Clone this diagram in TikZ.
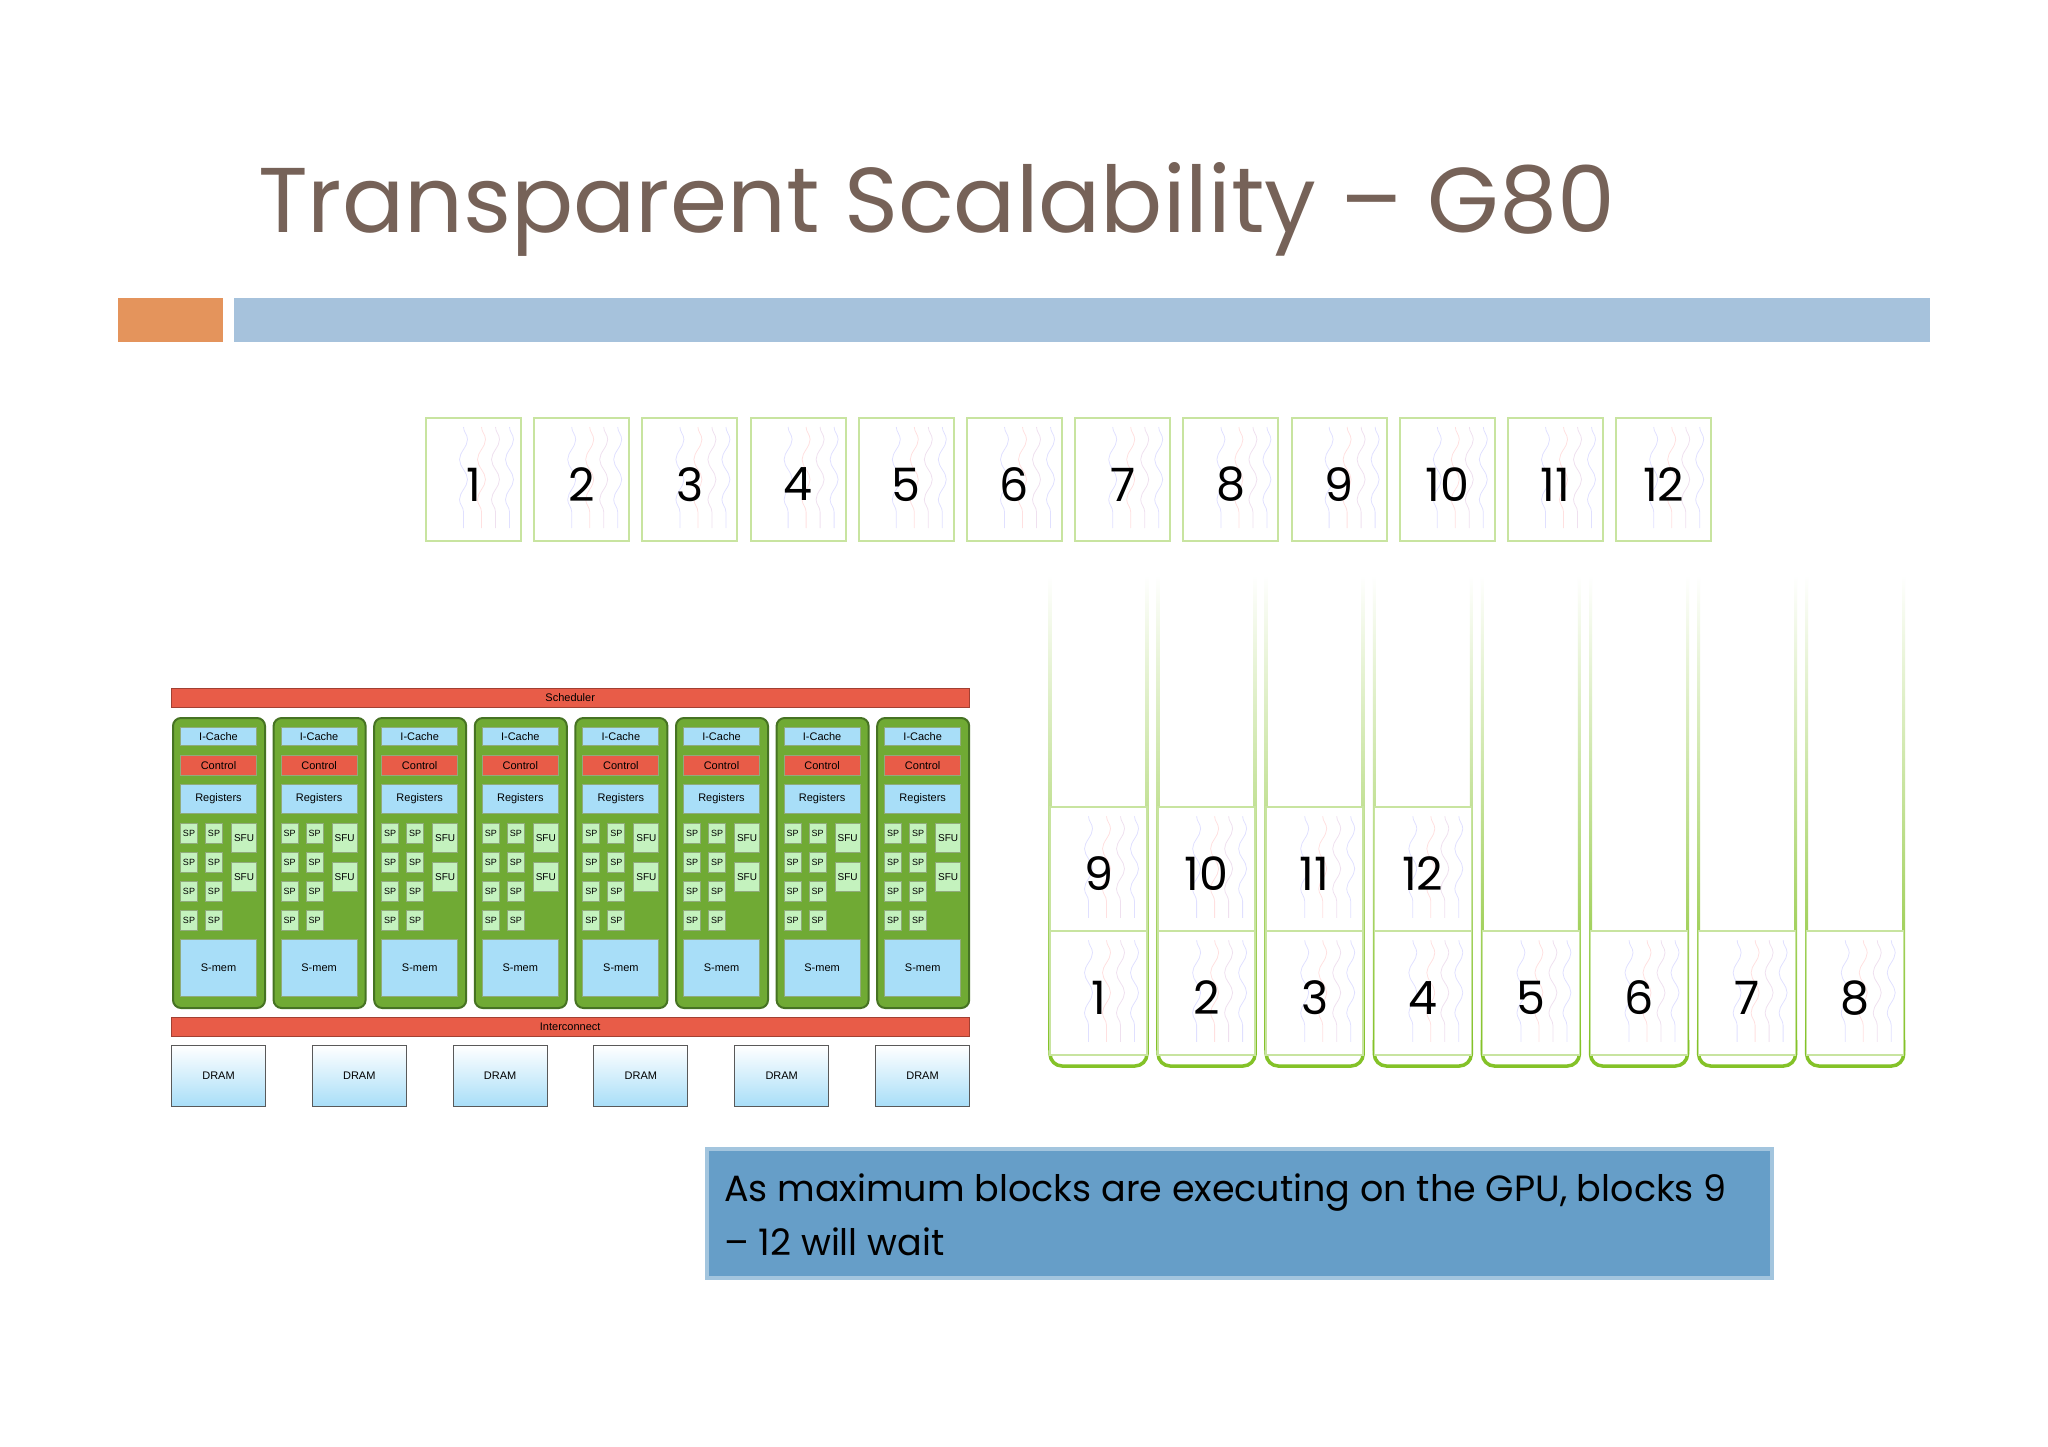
\documentclass[tikz,border=0pt]{standalone}
\usepackage{fontspec}
\setmainfont{Poppins}
\newfontfamily\sfsmall{Liberation Sans}
\usetikzlibrary{decorations.pathmorphing}
\definecolor{ttl}{RGB}{118,98,88}
\definecolor{org}{RGB}{228,148,92}
\definecolor{bbar}{RGB}{166,194,220}
\definecolor{tg}{RGB}{132,194,40}
\definecolor{tgl}{RGB}{200,228,160}
\definecolor{smg}{RGB}{112,170,52}
\definecolor{smd}{RGB}{70,115,35}
\definecolor{lb}{RGB}{168,222,248}
\definecolor{rd}{RGB}{232,92,72}
\definecolor{spg}{RGB}{196,242,190}
\definecolor{txb}{RGB}{102,158,200}
\begin{document}
\begin{tikzpicture}[x=1pt,y=-1pt,
  blk/.style={draw=tgl,line width=2pt,fill=white,minimum width=95pt,minimum height=123pt,font=\fontsize{46}{50}\selectfont,inner sep=0},
  tblk/.style={draw=tgl,line width=1.5pt,fill=white,minimum width=97pt,minimum height=124pt,font=\fontsize{46}{50}\selectfont,inner sep=0},
  gl/.style={draw=smd!60,line width=1pt,font=\sfsmall\fontsize{11}{12}\selectfont,inner sep=0,anchor=north west},
  num/.style={font=\fontsize{46}{50}\selectfont,inner sep=0,yshift=-5pt},
  wav/.style={decorate,decoration={snake,amplitude=4pt,segment length=40pt},line width=0.8pt,opacity=0.12}]
\useasboundingbox (0,0) rectangle (2048,1447);
\fill[white] (0,0) rectangle (2048,1447);
% title
\node[anchor=base west,text=ttl,font=\fontsize{92}{96}\selectfont,inner sep=0] (title) at (258,233) {Transparent Scalability -- G80};
\fill[org] (118,298) rectangle (223,342);
\fill[bbar] (234,298) rectangle (1930,342);
% top blocks
\foreach \i in {1,...,12}{
  \node[blk] (b\i) at ({426+47.5+(\i-1)*108.2},479.5) {};
  \foreach \dx/\c in {-10/blue,8/red,22/violet,36/blue}
    \draw[wav,\c] ([xshift=\dx pt,yshift=-10pt]b\i.north) -- ([xshift=\dx pt,yshift=14pt]b\i.south);
  \node[num] (bt\i) at (b\i) {\i};
}
% tubes
\foreach \i in {1,...,8}{
  \pgfmathsetmacro\xl{1050+(\i-1)*108.1}
  \coordinate (tl\i) at (\xl,575);
  \shade[top color=white,bottom color=tg] (\xl-1.5,575) rectangle (\xl+1.5,1050);
  \shade[top color=white,bottom color=tg] (\xl+95.5,575) rectangle (\xl+98.5,1050);
  \draw[tg,line width=3.5pt,rounded corners=12pt] (\xl,1040) -- (\xl,1066) -- (\xl+97,1066) -- (\xl+97,1040);
  \node[tblk] (l\i) at (\xl+48.5,993) {};
  \foreach \dx/\c in {-10/blue,8/red,22/violet,36/blue}
    \draw[wav,\c] ([xshift=\dx pt,yshift=-10pt]l\i.north) -- ([xshift=\dx pt,yshift=14pt]l\i.south);
  \node[num] at (l\i) {\i};
}
\foreach \i [evaluate=\i as \j using int(\i+8)] in {1,...,4}{
  \node[tblk] (u\i) at ({1050+(\i-1)*108.1+48.5},869) {};
  \foreach \dx/\c in {-10/blue,8/red,22/violet,36/blue}
    \draw[wav,\c] ([xshift=\dx pt,yshift=-10pt]u\i.north) -- ([xshift=\dx pt,yshift=14pt]u\i.south);
  \node[num] at (u\i) {\j};
}
% GPU
\node[draw=rd!70!black,fill=rd,minimum width=798pt,minimum height=19pt,anchor=north west,inner sep=0,font=\sfsmall\fontsize{11}{12}\selectfont] (sch) at (171,688) {Scheduler};
\node[draw=rd!70!black,fill=rd,minimum width=798pt,minimum height=19pt,anchor=north west,inner sep=0,font=\sfsmall\fontsize{11}{12}\selectfont] (ic) at (171,1017) {Interconnect};
\foreach \k in {0,...,7}{
  \begin{scope}[xshift={\k*100.6}]
  \node[draw=smd,line width=2pt,fill=smg,rounded corners=8pt,minimum width=92pt,minimum height=290pt,anchor=north west,inner sep=0] (sm\k) at (172,717) {};
  \node[gl,fill=lb,minimum width=76pt,minimum height=18pt] (icc\k) at (180,727) {};
  \node[font=\sfsmall\fontsize{11}{12}\selectfont] at (icc\k) {I-Cache};
  \node[gl,fill=rd,minimum width=76pt,minimum height=20pt] (ct\k) at (180,755) {};
  \node[font=\sfsmall\fontsize{11}{12}\selectfont] at (ct\k) {Control};
  \node[gl,fill=lb,minimum width=76pt,minimum height=29pt] (rg\k) at (180,784) {};
  \node[font=\sfsmall\fontsize{11}{12}\selectfont] at (rg\k) {Registers};
  \foreach \r/\yy in {1/823,2/852,3/881,4/910}{
    \node[gl,fill=spg,minimum width=17pt,minimum height=20pt] (spa\k\r) at (180,\yy) {};
    \node[font=\sfsmall\fontsize{9}{10}\selectfont] at (spa\k\r) {SP};
    \node[gl,fill=spg,minimum width=17pt,minimum height=20pt] (spb\k\r) at (205,\yy) {};
    \node[font=\sfsmall\fontsize{9}{10}\selectfont] at (spb\k\r) {SP};
  }
  \node[gl,fill=spg,minimum width=25pt,minimum height=29pt] (sf\k) at (231,823) {};
  \node[font=\sfsmall\fontsize{10}{10}\selectfont] at (sf\k) {SFU};
  \node[gl,fill=spg,minimum width=25pt,minimum height=29pt] (sg\k) at (231,862) {};
  \node[font=\sfsmall\fontsize{10}{10}\selectfont] at (sg\k) {SFU};
  \node[gl,fill=lb,minimum width=76pt,minimum height=57pt] (smm\k) at (180,939) {};
  \node[font=\sfsmall\fontsize{11}{12}\selectfont] at (smm\k) {S-mem};
  \end{scope}
}
\foreach \k in {0,...,5}{
  \node[draw=gray!70!black,line width=1pt,top color=white,bottom color=lb,minimum width=94pt,minimum height=61pt,anchor=north west,inner sep=0,font=\sfsmall\fontsize{11}{12}\selectfont] (dr\k) at ({171+\k*140.8},1045) {DRAM};
}
% text box
\node[draw=txb!60,line width=4pt,fill=txb,minimum width=1065pt,minimum height=129pt,anchor=north west,inner sep=0] (tb) at (705,1147) {};
\node[anchor=base west,inner sep=0,font=\fontsize{36.5}{40}\selectfont] (t1) at (724,1201) {As maximum blocks are executing on the GPU, blocks 9};
\node[anchor=base west,inner sep=0,font=\fontsize{36.5}{40}\selectfont] (t2) at (724,1255) {-- 12 will wait};
\end{tikzpicture}
\end{document}
